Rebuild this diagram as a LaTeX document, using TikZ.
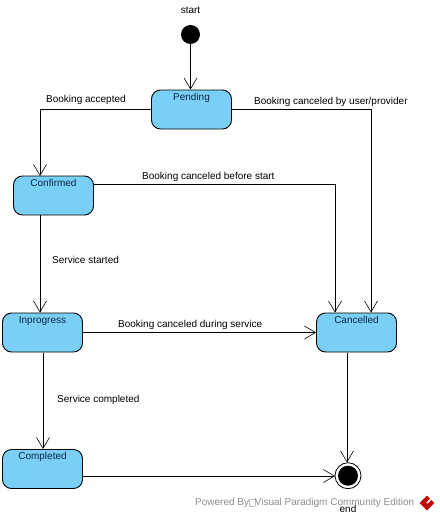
\documentclass[tikz,border=0pt]{standalone}
\usepackage{fontspec}
\setmainfont{Liberation Sans}
\usetikzlibrary{arrows.meta, shapes.geometric}
\definecolor{statefill}{RGB}{122,207,247}
\definecolor{statetext}{RGB}{10,40,70}
\tikzstyle{statebox} = [rectangle, rounded corners=9pt,
minimum width=80pt,
inner xsep=0pt, inner ysep=3pt,
text height=7pt, text depth=26pt,
text centered,
font=\fontsize{10}{12}\selectfont,
text=statetext,
line width=0.9pt,
draw=black,
fill=statefill]
\tikzstyle{initial} = [circle, minimum size=19pt, inner sep=0pt, fill=black]
\tikzstyle{finalring} = [circle, minimum size=26pt, inner sep=0pt, draw=black, line width=0.8pt, fill=white]
\tikzstyle{finaldot} = [circle, minimum size=20pt, inner sep=0pt, fill=black]
\tikzstyle{caption} = [inner sep=0pt, font=\fontsize{10}{12}\selectfont]
\tikzstyle{arrow} = [line width=0.7pt, -{Straight Barb[length=11pt, width=13pt, line width=0.6pt]}]

\begin{document}
\begin{tikzpicture}[x=1pt, y=-1pt]
\useasboundingbox (0,0) rectangle (439,519);

\node (start) [initial] at (190.5,34.5) {};
\node (pending) [statebox] at (191.5,109.5) {Pending};
\node (confirmed) [statebox] at (53.5,195.5) {Confirmed};
\node (inprogress) [statebox] at (42.5,332.5) {Inprogress};
\node (cancelled) [statebox] at (356.5,332.5) {Cancelled};
\node (completed) [statebox] at (42.5,469) {Completed};
\node (endring) [finalring] at (348,475.7) {};
\node (enddot) [finaldot] at (348,475.7) {};

\node (startlabel) [caption] at (190.5,10) {start};
\node (endlabel) [caption] at (348,509) {end};
\node (acceptedlabel) [caption, anchor=west] at (46,100) {Booking accepted};
\node (userlabel) [caption, anchor=west] at (254,101.5) {Booking canceled by user/provider};
\node (beforelabel) [caption, anchor=west] at (142,177) {Booking canceled before start};
\node (startedlabel) [caption, anchor=west] at (52,260) {Service started};
\node (duringlabel) [caption, anchor=west] at (118,325) {Booking canceled during service};
\node (donelabel) [caption, anchor=west] at (57,400) {Service completed};

% ends that sit off the middle of a side
\coordinate (confirmedin) at (40,176);
\coordinate (confirmedout) at (93.5,184);
\coordinate (confirmeddown) at (40,215);
\coordinate (progressin) at (40,312.5);
\coordinate (progressdown) at (43,352.5);
\coordinate (completedin) at (43,449);
\coordinate (cancelleda) at (335,312.5);
\coordinate (cancelledb) at (371,312.5);
\coordinate (cancelleddown) at (347,352.5);
\coordinate (endin) at (347,462.5);
\coordinate (completedout) at (82.5,476);
\coordinate (endwest) at (335,476);
\coordinate (pendingin) at (190.5,89.5);

\draw [arrow] (start) -- (pendingin);
\draw [arrow] (pending.west) -| (confirmedin);
\draw [arrow] (pending.east) -| (cancelledb);
\draw [arrow] (confirmedout) -| (cancelleda);
\draw [arrow] (confirmeddown) -- (progressin);
\draw [arrow] (inprogress.east) -- (cancelled.west);
\draw [arrow] (progressdown) -- (completedin);
\draw [arrow] (cancelleddown) -- (endin);
\draw [arrow] (completedout) -- (endwest);

\node (powered) [caption, anchor=west, text=black!45] at (195,503) {Powered By{\color{black!25}\setlength{\fboxsep}{0pt}\setlength{\fboxrule}{0.4pt}\fbox{\phantom{\rule{5pt}{6pt}}}}Visual Paradigm Community Edition};
\node (logo) [diamond, aspect=1, minimum size=15pt, inner sep=0pt, fill=red!75!black] at (427,503) {};
\draw [white, line width=1.6pt] (logo.center) -- (logo.north east);
\end{tikzpicture}
\end{document}
